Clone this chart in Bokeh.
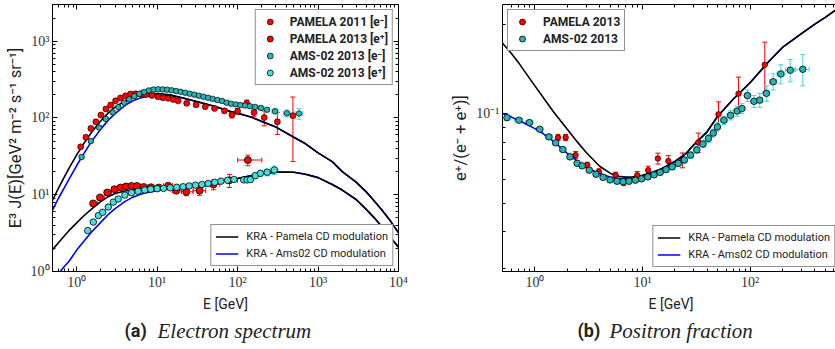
import numpy as np
from bokeh.plotting import figure
from bokeh.models import (ColumnDataSource, Whisker, TeeHead, LogAxis, FixedTicker,
                          Legend, LegendItem, Label, Range1d)
from bokeh.layouts import row, column
from bokeh.embed import file_html
from bokeh.resources import INLINE

SANS = "Roboto"
SERIF = "Liberation Serif"

# ---------------- (a) electron / positron spectra, E^3 J(E) ----------------
pam_em_E = [1.12, 1.30, 1.50, 1.73, 2.0, 2.31, 2.64, 3.04, 3.5, 4.04, 4.66, 5.4, 6.3, 7.3, 8.6,
            10.2, 11.8, 13.7, 15.8, 18.2, 23.3, 30.5, 39.6, 51.6, 68.6, 85, 100, 130, 160, 214, 312, 487]
pam_em_J = [42, 56, 73, 89, 109, 131, 147, 167, 182, 194, 205, 206, 206, 202, 196,
            189, 183, 180, 174, 167, 155, 148, 140, 133, 124, 110, 122, 155, 118, 101, 89, 107]
pam_em_err = [1.5, 2, 2.5, 3, 3.5, 4, 4.5, 5, 5, 5.5, 6, 6, 6, 6, 6,
              6, 6, 6, 6, 6, 6, 6, 6, 7, 8, 10, 10, 16, 13, 22, 28, 80]
pam_em_dE = [0.06, 0.07, 0.08, 0.09, 0.1, 0.12, 0.14, 0.16, 0.18, 0.2, 0.24, 0.27, 0.3, 0.35, 0.4,
             0.5, 0.6, 0.7, 0.8, 0.9, 1.2, 1.5, 2, 2.5, 3.5, 4, 5, 6, 8, 10, 15, 25]

pam_ep_E = [1.6, 1.95, 2.4, 2.95, 3.5, 4.1, 4.8, 5.6, 6.8, 8.4, 10.5, 13.7, 17.3, 23.0, 33.7, 50, 79, 134]
pam_ep_J = [7.7, 9.2, 10.7, 11.8, 12.4, 12.8, 13.0, 13.0, 12.6, 12.5, 12.4, 13.1, 11.3, 10.9, 11.3, 13.6, 15.4, 28.3]
pam_ep_err = [0.3, 0.35, 0.4, 0.4, 0.45, 0.45, 0.5, 0.5, 0.5, 0.5, 0.6, 0.8, 0.9, 1.2, 1.5, 2.0, 3.0, 4.5]
pam_ep_Elo = [1.5, 1.8, 2.2, 2.7, 3.25, 3.8, 4.45, 5.2, 6.2, 7.6, 9.4, 12.0, 15.5, 20, 28, 40, 60, 100]
pam_ep_Ehi = [1.8, 2.2, 2.7, 3.25, 3.8, 4.45, 5.2, 6.2, 7.6, 9.4, 12.0, 15.5, 20, 28, 40, 60, 100, 200]

ams_em_E = [1.15, 1.5, 1.9, 2.3, 2.8, 3.3, 3.9, 4.5, 5.2, 6.0, 6.9, 7.9, 9.0, 10.3, 11.7, 13.3, 15.1,
            17.2, 19.6, 22.3, 25.4, 29, 33, 37.6, 43, 49, 56, 64, 73, 83, 95, 108, 124, 142, 165, 195,
            232, 292, 410, 580]
ams_em_J = [31, 50, 75, 97, 118, 138, 158, 175, 192, 206, 218, 228, 234, 236, 235, 233, 229,
            224, 219, 213, 207, 201, 195, 189, 183, 177, 171, 166, 158, 153, 150, 147, 145, 142, 139, 135,
            128, 122, 115, 114]
ams_em_err = [2, 2, 2.5, 3, 3, 3.5, 4, 4, 4.5, 5, 5, 5, 5, 5, 5, 5, 5,
              5, 5, 5, 5, 5, 5, 5, 5, 5, 5, 5, 5, 5, 5, 5, 5.5, 6, 6.5, 7,
              8, 9, 12, 18]
ams_em_dE = [0.07, 0.1, 0.12, 0.15, 0.18, 0.2, 0.25, 0.3, 0.35, 0.4, 0.45, 0.5, 0.55, 0.65, 0.75, 0.85, 1.0,
             1.1, 1.25, 1.4, 1.6, 1.8, 2.1, 2.4, 2.8, 3.1, 3.5, 4, 4.5, 5, 6, 7, 8, 9, 11, 13,
             17, 25, 40, 60]

ams_ep_E = [1.37, 1.61, 1.86, 2.1, 2.47, 2.85, 3.28, 3.97, 4.8, 5.8, 7.0, 8.3, 10, 12, 14.5, 17.5,
            21, 25, 30, 36, 43, 52, 62, 75, 90, 119, 131, 144, 166, 192, 233, 286]
ams_ep_J = [3.41, 4.4, 5.35, 5.9, 6.9, 8.0, 8.8, 9.9, 10.6, 11.1, 11.5, 11.8, 12.0, 12.1, 12.3, 12.5,
            12.7, 13.0, 13.3, 13.6, 14.0, 14.5, 15.0, 15.4, 15.8, 15.6, 15.6, 15.7, 17.7, 19.0, 19.6, 21.0]
ams_ep_err = [0.2, 0.2, 0.25, 0.25, 0.3, 0.3, 0.3, 0.35, 0.35, 0.35, 0.4, 0.4, 0.4, 0.4, 0.4, 0.45,
              0.45, 0.5, 0.5, 0.55, 0.6, 0.7, 0.8, 0.9, 1.0, 1.1, 1.2, 1.3, 1.5, 1.7, 2.0, 2.6]
ams_ep_dE = [0.08, 0.1, 0.12, 0.13, 0.15, 0.18, 0.2, 0.25, 0.3, 0.35, 0.4, 0.5, 0.6, 0.7, 0.85, 1.0,
             1.2, 1.5, 1.8, 2.1, 2.5, 3, 3.5, 4.5, 5.5, 6, 6, 7, 9, 12, 18, 30]

# KRA model curves on a common energy grid
model_a_E = [0.5, 0.6, 0.7, 0.8, 1.0, 1.2, 1.5, 2, 2.5, 3, 4, 5, 6, 7, 8, 10, 12, 15, 20, 30, 50, 80,
             100, 150, 200, 300, 500, 700, 1000, 1500, 2000, 3000, 4000, 5000, 6000, 7000, 8000, 10000]
kra_pam_em = [8.4, 12.5, 17, 22, 33, 45, 63, 92, 118, 138, 168, 187, 198, 205, 208, 208, 205, 198, 185,
              165, 143, 122, 115, 102, 90, 76, 56, 46, 35, 27, 20, 14.5, 10.8, 8.3, 6.6, 5.4, 4.5, 3.2]
kra_ams_em = [6.3, 9.2, 12.3, 15.8, 24, 33, 48, 72, 95, 114, 146, 167, 180, 188, 193, 197, 197, 194, 183,
              165, 143, 122, 115, 102, 90, 76, 56, 46, 35, 27, 20, 14.5, 10.8, 8.3, 6.6, 5.4, 4.5, 3.2]
kra_pam_ep = [1.92, 2.4, 2.9, 3.4, 4.3, 5.2, 6.4, 8.2, 9.5, 10.4, 11.2, 11.5, 11.7, 11.8, 11.9, 11.95,
              12.0, 12.2, 12.5, 13.0, 14.0, 15.6, 16.3, 17.8, 18.8, 19.7, 19.6, 18.5, 16.7, 13.6, 11.5,
              8.6, 6.4, 5.0, 4.0, 3.3, 2.75, 2.07]
kra_ams_ep = [0.75, 0.95, 1.16, 1.35, 1.9, 2.4, 3.2, 4.4, 5.6, 6.6, 8.2, 9.3, 10.0, 10.5, 10.8, 11.3,
              11.7, 12.0, 12.4, 13.0, 14.0, 15.6, 16.3, 17.8, 18.8, 19.7, 19.6, 18.5, 16.7, 13.6, 11.5,
              8.6, 6.4, 5.0, 4.0, 3.3, 2.75, 2.07]

# ---------------- (b) positron fraction ----------------
pam_pf_E = [1.64, 1.93, 2.39, 3.07, 3.94, 5.63, 6.7, 8.93, 11.3, 13.9, 17.4, 23.5, 33, 50.9, 78.1, 137]
pam_pf_F = [0.0831, 0.0831, 0.0725, 0.0671, 0.0637, 0.0620, 0.0587, 0.0620, 0.0645, 0.0706, 0.0692,
            0.0697, 0.0800, 0.0995, 0.1167, 0.146]
pam_pf_err = [0.002, 0.002, 0.002, 0.0015, 0.0015, 0.0015, 0.0015, 0.0018, 0.002, 0.003, 0.003,
              0.004, 0.006, 0.010, 0.016, 0.028]

ams_pf_E = [0.55, 0.71, 0.89, 1.11, 1.35, 1.56, 1.82, 2.12, 2.47, 2.75, 3.2, 3.7, 4.3, 5.0, 5.8, 6.6,
            7.5, 8.6, 9.8, 11.2, 12.8, 14.6, 16.6, 18.9, 21.5, 24.5, 28, 32, 36.5, 41, 45.5, 49.7, 57.2,
            65.8, 75.8, 84, 94.5, 108.7, 123, 142, 164, 193, 236, 309]
ams_pf_F = [0.0969, 0.095, 0.0933, 0.0886, 0.0835, 0.0797, 0.0757, 0.0715, 0.068, 0.0667, 0.0645,
            0.0625, 0.061, 0.0598, 0.0592, 0.0590, 0.0592, 0.0597, 0.0603, 0.0612, 0.0622, 0.0634,
            0.0648, 0.0662, 0.068, 0.0698, 0.0725, 0.0755, 0.079, 0.0825, 0.086, 0.0902, 0.095,
            0.0987, 0.102, 0.104, 0.115, 0.110, 0.111, 0.117, 0.128, 0.136, 0.140, 0.141]
ams_pf_err = [0.002, 0.0015, 0.0015, 0.0015, 0.0015, 0.0015, 0.0015, 0.0015, 0.0012, 0.0012, 0.0012,
              0.0012, 0.0012, 0.0012, 0.0012, 0.0012, 0.0012, 0.0012, 0.0012, 0.0012, 0.0013, 0.0013,
              0.0014, 0.0015, 0.0016, 0.0017, 0.0018, 0.002, 0.0022, 0.0025, 0.0027, 0.003, 0.003,
              0.0035, 0.004, 0.004, 0.005, 0.005, 0.006, 0.007, 0.008, 0.010, 0.012, 0.017]
ams_pf_dE = [0.05, 0.06, 0.07, 0.08, 0.1, 0.1, 0.12, 0.13, 0.15, 0.15, 0.2, 0.2, 0.25, 0.3, 0.35, 0.4,
             0.45, 0.5, 0.6, 0.7, 0.8, 0.9, 1.0, 1.1, 1.3, 1.5, 1.8, 2.0, 2.3, 2.5, 2.7, 3, 4,
             4.5, 5, 5.5, 6, 7, 8, 10, 12, 15, 22, 45]

model_b_E = [0.5, 0.6, 0.7, 0.8, 1.0, 1.2, 1.5, 2, 2.5, 3, 4, 5, 6, 7, 8, 10, 12, 15, 20, 25, 30, 40,
             50, 70, 100, 150, 200, 300, 400, 500, 700]
kra_pam_pf = [0.1726, 0.160, 0.149, 0.139, 0.124, 0.113, 0.101, 0.0885, 0.0800, 0.0740, 0.0665, 0.0630,
              0.0615, 0.0611, 0.0612, 0.0620, 0.0632, 0.0652, 0.0690, 0.0730, 0.0785, 0.0870, 0.0980,
              0.1120, 0.1270, 0.1500, 0.1670, 0.1860, 0.2000, 0.2110, 0.2300]
kra_ams_pf = [0.1000, 0.0975, 0.0950, 0.0928, 0.0890, 0.0855, 0.0805, 0.0735, 0.0690, 0.0660, 0.0628,
              0.0612, 0.0605, 0.0603, 0.0605, 0.0615, 0.0628, 0.0650, 0.0690, 0.0730, 0.0785, 0.0870,
              0.0980, 0.1120, 0.1270, 0.1500, 0.1670, 0.1860, 0.2000, 0.2110, 0.2300]

SUP = {1: "10⁰", 10: "10¹", 100: "10²", 1000: "10³", 10000: "10⁴"}

RED = "#ff0000"
TEAL = "#2cb2b2"
CYAN = "#48dede"
ERR_CYAN = "#45d6d6"
INK = "#222222"

MAIN_H = 311      # plot rows (frame 4..271 plus axis texts)
CAP_H = 38        # caption strip below each panel


def minors(lo, hi):
    return [m * 10.0 ** e for e in range(lo, hi + 1) for m in range(2, 10)]


def style_axis(ax, labels=True):
    ax.axis_line_color = "black"
    ax.axis_line_width = 1
    ax.major_tick_in = 5
    ax.major_tick_out = 0
    ax.minor_tick_in = 3
    ax.minor_tick_out = 0
    ax.major_tick_line_color = "black"
    ax.minor_tick_line_color = "black"
    if labels:
        ax.major_label_text_font = SERIF
        ax.major_label_text_font_size = "14px"
        ax.major_label_text_color = "#333333"
        ax.major_label_standoff = 3
        ax.axis_label_text_font = SANS
        ax.axis_label_text_font_size = "14px"
        ax.axis_label_text_font_style = "normal"
        ax.axis_label_text_color = INK
        ax.axis_label_standoff = 3
    else:
        # frame-side tick marks only: blank labels taking (almost) no room
        ax.major_label_overrides = {t: "" for t in ax.ticker.ticks}
        ax.major_label_text_font_size = "1px"
        ax.major_label_standoff = 0


def errbars(p, x, y, dy, color, dx=None, xlo=None, xhi=None, head=5, width=1.0):
    x = np.asarray(x, float)
    y = np.asarray(y, float)
    dy = np.asarray(dy, float)
    data = dict(x=x, y=y, ylo=y - dy, yhi=y + dy)
    if dx is not None:
        dx = np.asarray(dx, float)
        data["xlo"], data["xhi"] = x - dx, x + dx
    elif xlo is not None:
        data["xlo"], data["xhi"] = np.asarray(xlo, float), np.asarray(xhi, float)
    src = ColumnDataSource(data)
    p.add_layout(Whisker(source=src, base="x", lower="ylo", upper="yhi", dimension="height",
                         line_color=color, line_width=width,
                         upper_head=TeeHead(size=head, line_color=color, line_width=width),
                         lower_head=TeeHead(size=head, line_color=color, line_width=width)))
    if "xlo" in data:
        p.add_layout(Whisker(source=src, base="y", lower="xlo", upper="xhi", dimension="width",
                             line_color=color, line_width=width,
                             upper_head=TeeHead(size=head, line_color=color, line_width=width),
                             lower_head=TeeHead(size=head, line_color=color, line_width=width)))


def legend_style(leg, bold, size):
    leg.label_text_font = SANS
    leg.label_text_font_size = size
    leg.label_text_font_style = "bold" if bold else "normal"
    leg.label_text_color = INK
    leg.border_line_color = INK
    leg.border_line_width = 1.2
    leg.background_fill_color = "white"
    leg.background_fill_alpha = 1.0
    leg.glyph_height = 15
    leg.label_height = 15
    leg.spacing = 2
    leg.padding = 4


def caption(width, tag, tag_x, title, title_x):
    c = figure(width=width, height=CAP_H, x_range=Range1d(0, width), y_range=Range1d(0, CAP_H),
               min_border=0, toolbar_location=None, output_backend="svg")
    c.axis.visible = False
    c.grid.visible = False
    c.outline_line_color = None
    c.add_layout(Label(x=tag_x, y=CAP_H - 16, text=tag, text_font=SANS, text_font_size="18px",
                       text_font_style="bold", text_color=INK, text_baseline="middle"))
    c.add_layout(Label(x=title_x, y=CAP_H - 16, text=title, text_font=SERIF, text_font_size="21px",
                       text_font_style="italic", text_color=INK, text_baseline="middle"))
    return c


# ============ figure (a) ============
pa = figure(x_axis_type="log", y_axis_type="log",
            x_range=Range1d(0.5, 1e4), y_range=Range1d(1, 3000),
            frame_width=346, frame_height=267,
            min_border_left=52, min_border_right=50, min_border_top=4,
            min_border_bottom=MAIN_H - 271,
            toolbar_location=None, output_backend="svg", background_fill_color="white")
pa.xgrid.visible = False
pa.ygrid.visible = False
pa.outline_line_color = None

pa.xaxis.ticker = FixedTicker(ticks=[1, 10, 100, 1000, 10000], minor_ticks=minors(-1, 3))
pa.yaxis.ticker = FixedTicker(ticks=[1, 10, 100, 1000], minor_ticks=minors(0, 3))
pa.xaxis.major_label_overrides = SUP
pa.yaxis.major_label_overrides = SUP
pa.xaxis.axis_label = "E [GeV]"
pa.yaxis.axis_label = "E³ J(E)[GeV² m⁻² s⁻¹ sr⁻¹]"
style_axis(pa.xaxis[0])
style_axis(pa.yaxis[0])
pa.yaxis.axis_label_text_font_size = "16.5px"
top_a = LogAxis(ticker=FixedTicker(ticks=[1, 10, 100, 1000, 10000], minor_ticks=minors(-1, 3)))
right_a = LogAxis(ticker=FixedTicker(ticks=[1, 10, 100, 1000], minor_ticks=minors(0, 3)))
style_axis(top_a, labels=False)
style_axis(right_a, labels=False)
pa.add_layout(top_a, "above")
pa.add_layout(right_a, "right")

# model curves (blue below, black on top)
la_b1 = pa.line(model_a_E, kra_ams_em, line_color="blue", line_width=1.6)
la_b2 = pa.line(model_a_E, kra_ams_ep, line_color="blue", line_width=1.6)
la_k1 = pa.line(model_a_E, kra_pam_em, line_color="black", line_width=1.6)
la_k2 = pa.line(model_a_E, kra_pam_ep, line_color="black", line_width=1.6)

# data with error bars
errbars(pa, pam_em_E, pam_em_J, pam_em_err, RED, dx=pam_em_dE, head=5)
errbars(pa, pam_ep_E, pam_ep_J, pam_ep_err, RED, xlo=pam_ep_Elo, xhi=pam_ep_Ehi, head=5)
errbars(pa, ams_em_E, ams_em_J, ams_em_err, ERR_CYAN, dx=ams_em_dE, head=5)
errbars(pa, ams_ep_E, ams_ep_J, ams_ep_err, ERR_CYAN, dx=ams_ep_dE, head=5)

r_pam_em = pa.scatter(pam_em_E, pam_em_J, marker="circle", size=6, fill_color=RED,
                      line_color="black", line_width=0.6)
r_pam_ep = pa.scatter(pam_ep_E, pam_ep_J, marker="circle", size=7, fill_color=RED,
                      line_color="black", line_width=0.8)
r_ams_em = pa.scatter(ams_em_E, ams_em_J, marker="circle", size=5.5, fill_color=TEAL,
                      line_color="black", line_width=0.7)
r_ams_ep = pa.scatter(ams_ep_E, ams_ep_J, marker="circle", size=6.5, fill_color=CYAN,
                      line_color="black", line_width=0.8)

leg_a1 = Legend(items=[LegendItem(label="PAMELA 2011 [e⁻]", renderers=[r_pam_em]),
                       LegendItem(label="PAMELA 2013 [e⁺]", renderers=[r_pam_ep]),
                       LegendItem(label="AMS-02 2013 [e⁻]", renderers=[r_ams_em]),
                       LegendItem(label="AMS-02 2013 [e⁺]", renderers=[r_ams_ep])],
                location="top_right", margin=5, glyph_width=20, label_standoff=10)
legend_style(leg_a1, True, "12px")
leg_a2 = Legend(items=[LegendItem(label="KRA - Pamela CD modulation", renderers=[la_k1]),
                       LegendItem(label="KRA - Ams02 CD modulation", renderers=[la_b1])],
                location="bottom_right", margin=5, glyph_width=23, label_standoff=8)
legend_style(leg_a2, False, "11px")
pa.add_layout(leg_a1)
pa.add_layout(leg_a2)

# ============ figure (b) ============
pb = figure(x_axis_type="log", y_axis_type="log",
            x_range=Range1d(0.5, 678), y_range=Range1d(0.0294, 0.233),
            frame_width=337, frame_height=267,
            min_border_left=50, min_border_right=0, min_border_top=4,
            min_border_bottom=MAIN_H - 271,
            toolbar_location=None, output_backend="svg", background_fill_color="white")
pb.xgrid.visible = False
pb.ygrid.visible = False
pb.outline_line_color = None

pb.xaxis.ticker = FixedTicker(ticks=[1, 10, 100], minor_ticks=minors(-1, 2))
pb.yaxis.ticker = FixedTicker(ticks=[0.1], minor_ticks=[0.03, 0.04, 0.05, 0.06, 0.07, 0.08, 0.09, 0.2])
pb.xaxis.major_label_overrides = SUP
pb.yaxis.major_label_overrides = {0.1: "10⁻¹"}
pb.xaxis.axis_label = "E [GeV]"
pb.yaxis.axis_label = "e⁺/(e⁻ + e⁺)]"
style_axis(pb.xaxis[0])
style_axis(pb.yaxis[0])
pb.yaxis.axis_label_text_font_size = "16.5px"
top_b = LogAxis(ticker=FixedTicker(ticks=[1, 10, 100], minor_ticks=minors(-1, 2)))
style_axis(top_b, labels=False)
pb.add_layout(top_b, "above")

lb_b = pb.line(model_b_E, kra_ams_pf, line_color="blue", line_width=1.6)
lb_k = pb.line(model_b_E, kra_pam_pf, line_color="black", line_width=1.6)

errbars(pb, pam_pf_E, pam_pf_F, pam_pf_err, RED, head=5)
errbars(pb, ams_pf_E, ams_pf_F, ams_pf_err, ERR_CYAN, dx=ams_pf_dE, head=5)

r_pam_pf = pb.scatter(pam_pf_E, pam_pf_F, marker="circle", size=5.5, fill_color=RED,
                      line_color="black", line_width=0.7)
r_ams_pf = pb.scatter(ams_pf_E, ams_pf_F, marker="circle", size=6.5, fill_color=TEAL,
                      line_color="black", line_width=0.8)

leg_b1 = Legend(items=[LegendItem(label="PAMELA 2013", renderers=[r_pam_pf]),
                       LegendItem(label="AMS-02 2013", renderers=[r_ams_pf])],
                location="top_left", margin=5, glyph_width=20, label_standoff=11)
legend_style(leg_b1, True, "12px")
leg_b2 = Legend(items=[LegendItem(label="KRA - Pamela CD modulation", renderers=[lb_k]),
                       LegendItem(label="KRA - Ams02 CD modulation", renderers=[lb_b])],
                location="bottom_right", margin=4, glyph_width=23, label_standoff=8)
legend_style(leg_b2, False, "11px")
pb.add_layout(leg_b1)
pb.add_layout(leg_b2)

cap_a = caption(448, "(a)", 124, "Electron spectrum", 157)
cap_b = caption(387, "(b)", 129, "Positron fraction", 161)

layout = column(row(pa, pb), row(cap_a, cap_b))
open("out.html", "w").write(file_html(layout, INLINE))
